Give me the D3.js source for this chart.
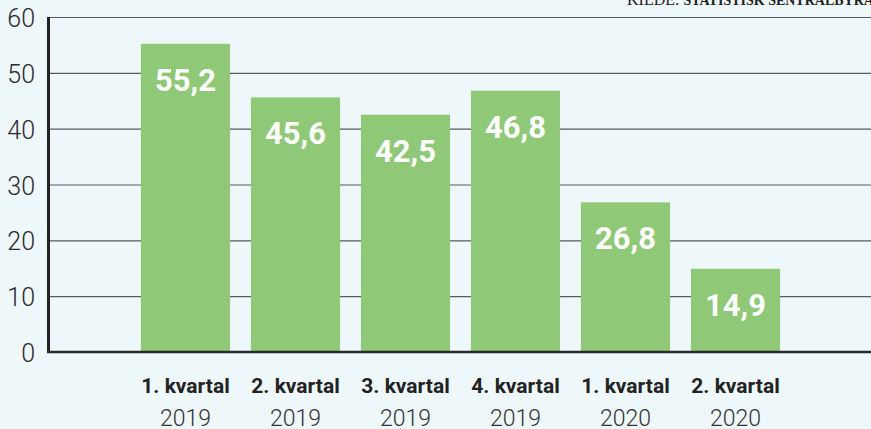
<!DOCTYPE html>
<html>
<head>
<meta charset="utf-8">
<script src="https://cdn.jsdelivr.net/npm/d3@7"></script>
<style>
  html, body { margin: 0; padding: 0; background: #eef7fa; }
  svg { display: block; }
</style>
</head>
<body>
<div id="chart"></div>
<script>
// Data
const kvartaler = ["1. kvartal", "2. kvartal", "3. kvartal", "4. kvartal", "1. kvartal", "2. kvartal"];
const aar = ["2019", "2019", "2019", "2019", "2020", "2020"];
const verdier = [55.2, 45.6, 42.5, 46.8, 26.8, 14.9];
const yTicks = [0, 10, 20, 30, 40, 50, 60];

const width = 871;
const height = 429;

const svg = d3.select("#chart")
    .append("svg")
    .attr("width", width)
    .attr("height", height);

// Scales
const x = d3.scaleBand()
    .domain(d3.range(verdier.length))
    .range([130.5, 790.5])
    .paddingInner(0.19)
    .paddingOuter(0.095);

const y = d3.scaleLinear()
    .domain([0, 60])
    .range([352, 17]);

// Source (cut off at the top like the original)
const src = svg.append("text")
    .attr("x", 627)
    .attr("y", 5)
    .style("font-family", "'Liberation Serif', serif")
    .style("fill", "#222");
src.append("tspan").style("font-size", "16px").text("KILDE: ");
src.append("tspan").style("font-size", "14px").style("font-weight", "bold").text("STATISTISK SENTRALBYRÅ");

// Gridlines
svg.append("g")
    .selectAll("line")
    .data(yTicks.filter(d => d > 0))
    .enter()
    .append("line")
    .attr("x1", 48)
    .attr("x2", width)
    .attr("y1", d => y(d) + 0.5)
    .attr("y2", d => y(d) + 0.5)
    .attr("stroke", "#5a5a5a")
    .attr("stroke-width", 1.2);

// Y axis labels
const yAxis = svg.append("g")
    .attr("transform", "translate(48,0)")
    .call(d3.axisLeft(y).tickValues(yTicks).tickSize(0).tickPadding(13));
yAxis.select(".domain").remove();
yAxis.selectAll("text")
    .attr("dy", "0.38em")
    .style("font-family", "Roboto, sans-serif")
    .style("font-weight", 300)
    .style("font-size", "25px")
    .style("fill", "#2a2a2a");

// Bars
svg.append("g")
    .selectAll("rect")
    .data(verdier)
    .enter()
    .append("rect")
    .attr("x", (d, i) => x(i))
    .attr("y", d => y(d))
    .attr("width", x.bandwidth())
    .attr("height", d => y(0) - y(d))
    .attr("fill", "#8fc876");

// Value labels
svg.append("g")
    .selectAll("text")
    .data(verdier)
    .enter()
    .append("text")
    .attr("x", (d, i) => x(i) + x.bandwidth() / 2)
    .attr("y", d => y(d) + 47)
    .attr("text-anchor", "middle")
    .style("font-family", "Roboto, sans-serif")
    .style("font-weight", "bold")
    .style("font-size", "31px")
    .style("fill", "#ffffff")
    .text(d => d3.format(".1f")(d).replace(".", ","));

// Axis lines
svg.append("line")
    .attr("x1", 48.5).attr("x2", 48.5)
    .attr("y1", 17).attr("y2", 353)
    .attr("stroke", "#222").attr("stroke-width", 3);

svg.append("line")
    .attr("x1", 47).attr("x2", width)
    .attr("y1", 352).attr("y2", 352)
    .attr("stroke", "#2a2a2a").attr("stroke-width", 2.5);

// Category labels
const cat = svg.append("g")
    .selectAll("g")
    .data(kvartaler)
    .enter()
    .append("g")
    .attr("transform", (d, i) => `translate(${x(i) + x.bandwidth() / 2},0)`);

cat.append("text")
    .attr("y", 393)
    .attr("text-anchor", "middle")
    .style("font-family", "Roboto, sans-serif")
    .style("font-weight", "bold")
    .style("font-size", "21px")
    .style("fill", "#222")
    .text(d => d);

cat.append("text")
    .attr("y", 426)
    .attr("text-anchor", "middle")
    .style("font-family", "Roboto, sans-serif")
    .style("font-weight", 300)
    .style("font-size", "23px")
    .style("fill", "#333")
    .text((d, i) => aar[i]);
</script>
</body>
</html>
